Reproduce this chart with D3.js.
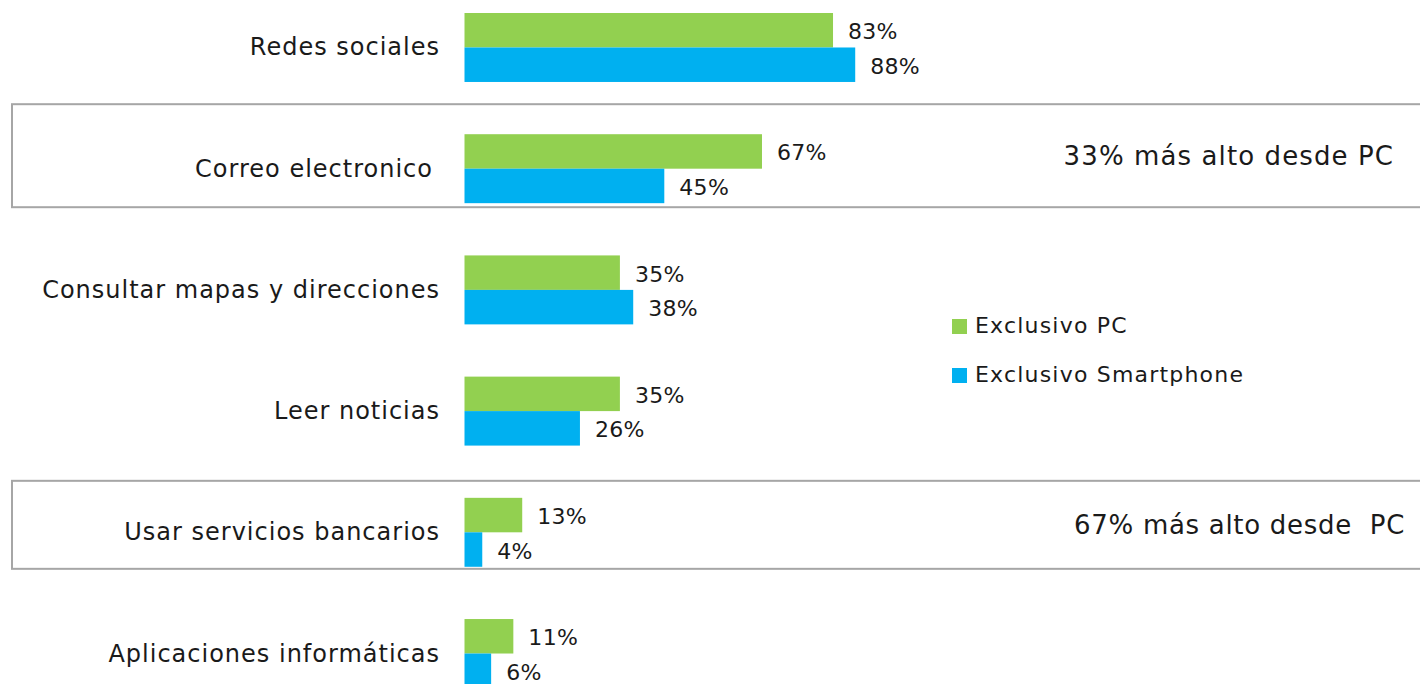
<!DOCTYPE html>
<html>
<head>
<meta charset="utf-8">
<script src="https://cdn.jsdelivr.net/npm/d3@7"></script>
<style>
  html, body { margin: 0; padding: 0; background: #fff; }
  svg { display: block; }
  text { font-family: "Century Gothic", "DejaVu Sans", sans-serif; fill: #1a1a1a; }
</style>
</head>
<body>
<svg id="chart" width="1420" height="684"></svg>
<script>
const categories = [
  "Redes sociales",
  "Correo electronico",
  "Consultar mapas y direcciones",
  "Leer noticias",
  "Usar servicios bancarios",
  "Aplicaciones informáticas"
];
const seriesNames = ["Exclusivo PC", "Exclusivo Smartphone"];
const pcValues = [83, 67, 35, 35, 13, 11];
const smartphoneValues = [88, 45, 38, 26, 4, 6];
const colors = ["#92d050", "#00b0f0"];
const highlighted = ["Correo electronico", "Usar servicios bancarios"];
const highlightNotes = ["33% más alto desde PC", "67% más alto desde\u00a0 PC"];

const svg = d3.select("#chart");

const y = d3.scaleBand()
  .domain(categories)
  .range([13, 688])
  .paddingInner(0.431)
  .paddingOuter(0);

const sub = d3.scaleBand()
  .domain(seriesNames)
  .range([0, y.bandwidth()]);

const x = d3.scaleLinear().domain([0, 100]).range([464.5, 908.5]);

// highlight boxes
const boxSpec = [{ off: -30, h: 103 }, { off: -17, h: 88 }];
const boxG = svg.append("g");
highlighted.forEach((cat, i) => {
  boxG.append("rect")
    .attr("x", 12).attr("y", y(cat) + boxSpec[i].off)
    .attr("width", 1420).attr("height", boxSpec[i].h)
    .attr("fill", "none")
    .attr("stroke", "#a6a6a6")
    .attr("stroke-width", 2);
});

const data = categories.map((c, i) => ({
  cat: c,
  vals: [
    { s: seriesNames[0], v: pcValues[i] },
    { s: seriesNames[1], v: smartphoneValues[i] }
  ]
}));

const groups = svg.append("g").selectAll("g")
  .data(data).join("g")
  .attr("transform", d => `translate(0,${y(d.cat)})`);

groups.selectAll("rect")
  .data(d => d.vals).join("rect")
  .attr("x", x(0))
  .attr("y", d => sub(d.s))
  .attr("width", d => x(d.v) - x(0))
  .attr("height", sub.bandwidth())
  .attr("fill", (d, i) => colors[i]);

groups.selectAll("text.val")
  .data(d => d.vals).join("text")
  .attr("class", "val")
  .attr("x", d => x(d.v) + 15)
  .attr("y", d => sub(d.s) + sub.bandwidth() / 2 + 3)
  .attr("dominant-baseline", "middle")
  .attr("font-size", 22)
  .attr("letter-spacing", 0.3)
  .text(d => d.v + "%");

// category labels
svg.append("g").selectAll("text")
  .data(categories).join("text")
  .attr("x", d => d === "Correo electronico" ? 433 : 440)
  .attr("y", d => y(d) + y.bandwidth() / 2 + 1)
  .attr("text-anchor", "end")
  .attr("dominant-baseline", "middle")
  .attr("font-size", 24)
  .attr("letter-spacing", 1)
  .text(d => d);

// notes
const noteSpec = [{ x: 1394, dy: 23, ls: 1.1 }, { x: 1405, dy: 29, ls: 0.7 }];
highlighted.forEach((cat, i) => {
  svg.append("text")
    .attr("x", noteSpec[i].x)
    .attr("y", y(cat) + noteSpec[i].dy)
    .attr("text-anchor", "end")
    .attr("dominant-baseline", "middle")
    .attr("font-size", 26)
    .attr("letter-spacing", noteSpec[i].ls)
    .text(highlightNotes[i]);
});

// legend
const leg = svg.append("g").attr("transform", "translate(952,319)");
seriesNames.forEach((s, i) => {
  leg.append("rect")
    .attr("x", 0).attr("y", i * 49)
    .attr("width", 15).attr("height", 15)
    .attr("fill", colors[i]);
  leg.append("text")
    .attr("x", 23).attr("y", i * 49 + 8)
    .attr("dominant-baseline", "middle")
    .attr("font-size", 22)
    .attr("letter-spacing", 1.2)
    .text(s);
});
</script>
</body>
</html>
